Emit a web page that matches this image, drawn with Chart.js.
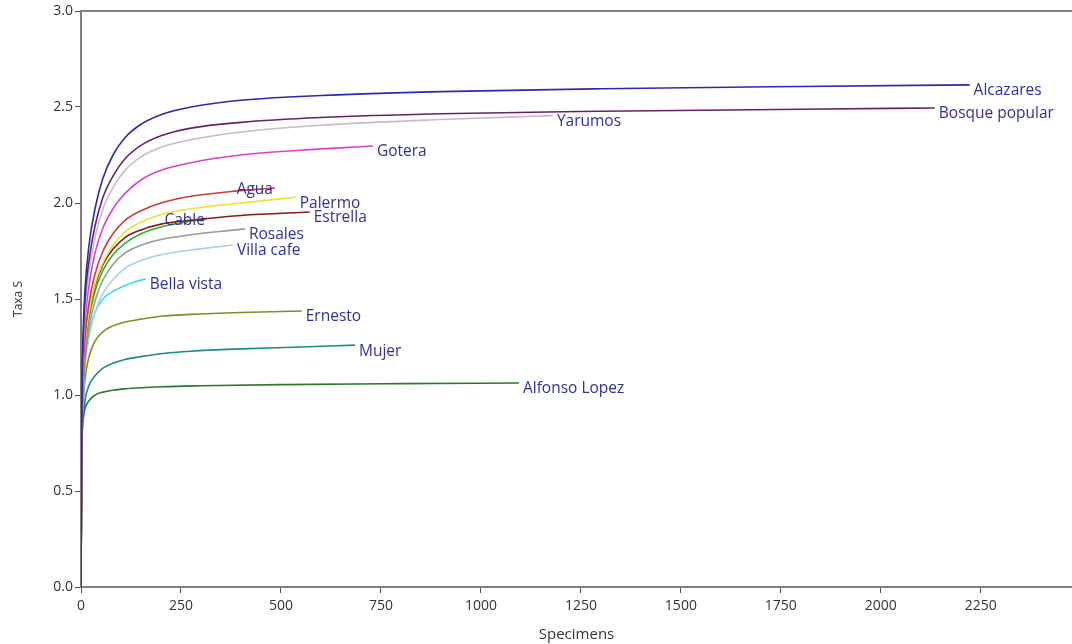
<!DOCTYPE html>
<html>
<head>
<meta charset="utf-8">
<script src="https://cdn.jsdelivr.net/npm/chart.js@4"></script>
<style>
  body { margin: 0; background: #fff; }
</style>
</head>
<body>
<canvas id="chart" width="1072" height="644"></canvas>
<script>
// rarefaction curves, values
const siteNames = ["Alcazares", "Bosque popular", "Yarumos", "Gotera", "Agua", "Palermo", "Estrella",
                   "Cable", "Rosales", "Villa cafe", "Bella vista", "Ernesto", "Mujer", "Alfonso Lopez"];

const xAlcazares = [0, 2, 5, 10, 20, 35, 55, 80, 110, 150, 200, 275, 400, 600, 900, 1300, 1800, 2222];
const yAlcazares = [0, 0.95, 1.3, 1.55, 1.78, 1.97, 2.13, 2.25, 2.34, 2.41, 2.46, 2.50, 2.535, 2.56, 2.58, 2.595, 2.607, 2.615];

const xBosque = [0, 2, 5, 10, 20, 35, 55, 80, 110, 150, 200, 275, 400, 600, 900, 1300, 1800, 2135];
const yBosque = [0, 0.9, 1.25, 1.5, 1.7, 1.88, 2.03, 2.14, 2.23, 2.30, 2.35, 2.39, 2.42, 2.445, 2.465, 2.478, 2.488, 2.495];

const xYarumos = [0, 2, 5, 10, 20, 35, 55, 80, 110, 150, 200, 275, 400, 600, 900, 1180];
const yYarumos = [0, 0.88, 1.2, 1.44, 1.64, 1.82, 1.97, 2.08, 2.17, 2.24, 2.29, 2.33, 2.37, 2.405, 2.435, 2.455];

const xGotera = [0, 2, 5, 10, 20, 35, 55, 80, 110, 150, 200, 275, 400, 550, 730];
const yGotera = [0, 0.85, 1.15, 1.38, 1.57, 1.74, 1.87, 1.97, 2.05, 2.12, 2.17, 2.21, 2.25, 2.275, 2.297];

const xAgua = [0, 2, 5, 10, 20, 35, 55, 80, 110, 150, 200, 275, 375, 485];
const yAgua = [0, 0.82, 1.1, 1.3, 1.48, 1.63, 1.75, 1.84, 1.91, 1.96, 2.0, 2.035, 2.06, 2.078];

const xPalermo = [0, 2, 5, 10, 20, 35, 55, 80, 110, 150, 200, 275, 400, 537];
const yPalermo = [0, 0.8, 1.07, 1.26, 1.43, 1.58, 1.69, 1.78, 1.85, 1.9, 1.94, 1.97, 2.0, 2.03];

const xEstrella = [0, 2, 5, 10, 20, 35, 55, 80, 110, 150, 200, 275, 400, 572];
const yEstrella = [0, 0.8, 1.07, 1.26, 1.43, 1.57, 1.68, 1.76, 1.82, 1.86, 1.89, 1.91, 1.935, 1.953];

const xCable = [0, 2, 5, 10, 20, 35, 55, 80, 110, 150, 200, 260, 315];
const yCable = [0, 0.78, 1.04, 1.23, 1.4, 1.54, 1.65, 1.73, 1.79, 1.84, 1.875, 1.9, 1.92];

const xRosales = [0, 2, 5, 10, 20, 35, 55, 80, 110, 150, 200, 275, 340, 410];
const yRosales = [0, 0.76, 1.0, 1.18, 1.35, 1.49, 1.6, 1.68, 1.74, 1.78, 1.81, 1.835, 1.85, 1.865];

const xVillaCafe = [0, 2, 5, 10, 20, 35, 55, 80, 110, 150, 200, 275, 380];
const yVillaCafe = [0, 0.74, 0.98, 1.15, 1.3, 1.43, 1.53, 1.6, 1.66, 1.7, 1.73, 1.755, 1.781];

const xBellaVista = [0, 2, 5, 10, 20, 35, 55, 80, 110, 135, 162];
const yBellaVista = [0, 0.75, 1.0, 1.17, 1.32, 1.43, 1.5, 1.54, 1.57, 1.59, 1.604];

const xErnesto = [0, 2, 5, 10, 20, 35, 55, 80, 110, 150, 200, 275, 400, 552];
const yErnesto = [0, 0.7, 0.93, 1.08, 1.2, 1.28, 1.33, 1.36, 1.38, 1.395, 1.41, 1.42, 1.43, 1.4375];

const xMujer = [0, 2, 5, 10, 20, 35, 55, 80, 110, 150, 200, 275, 400, 550, 685];
const yMujer = [0, 0.68, 0.86, 0.97, 1.05, 1.1, 1.14, 1.165, 1.185, 1.2, 1.215, 1.228, 1.24, 1.25, 1.26];

const xAlfonso = [0, 2, 5, 10, 20, 35, 55, 80, 110, 150, 200, 300, 500, 800, 1095];
const yAlfonso = [0, 0.75, 0.87, 0.93, 0.97, 1.0, 1.015, 1.025, 1.032, 1.038, 1.043, 1.048, 1.054, 1.059, 1.0625];

const xSeries = [xAlcazares, xBosque, xYarumos, xGotera, xAgua, xPalermo, xEstrella,
                 xCable, xRosales, xVillaCafe, xBellaVista, xErnesto, xMujer, xAlfonso];
const ySeries = [yAlcazares, yBosque, yYarumos, yGotera, yAgua, yPalermo, yEstrella,
                 yCable, yRosales, yVillaCafe, yBellaVista, yErnesto, yMujer, yAlfonso];

const lineColors = ["#2b2bb0", "#6b1f6b", "#cdb8cd", "#e040c8", "#d03a3a", "#f0e030", "#8b1a1a",
                    "#30b030", "#9a9a9a", "#a8d0ec", "#30e0f0", "#8a8a20", "#1a8a8a", "#2a7a2a"];

const xTickValues = [0, 250, 500, 750, 1000, 1250, 1500, 1750, 2000, 2250];
const yTickValues = [0, 0.5, 1.0, 1.5, 2.0, 2.5, 3.0];
const xMax = 2478;
const leftLabels = ["Agua", "Cable"];

const datasets = siteNames.map((name, i) => ({
    label: name,
    data: xSeries[i].map((x, j) => ({ x: x, y: ySeries[i][j] })),
    borderColor: lineColors[i],
    borderWidth: 1.6,
    pointRadius: 0,
    fill: false,
    cubicInterpolationMode: "monotone"
}));

// names written at the end of every curve
const endLabels = {
    id: "endLabels",
    afterDatasetsDraw(chart) {
        const ctx = chart.ctx;
        ctx.save();
        ctx.font = '15.5px "Open Sans"';
        ctx.fillStyle = "#30309a";
        ctx.textBaseline = "middle";
        chart.data.datasets.forEach((ds, i) => {
            const pts = chart.getDatasetMeta(i).data;
            const p = pts[pts.length - 1];
            if (leftLabels.includes(ds.label)) {
                ctx.textAlign = "right";
                ctx.fillText(ds.label, p.x - 2, p.y + 2);
            } else {
                ctx.textAlign = "left";
                ctx.fillText(ds.label, p.x + 4, p.y + 6);
            }
        });
        ctx.restore();
    }
};

// gray line along the top of the plot
const topBorder = {
    id: "topBorder",
    afterDraw(chart) {
        const ctx = chart.ctx;
        const a = chart.chartArea;
        ctx.save();
        ctx.strokeStyle = "#808080";
        ctx.lineWidth = 2;
        ctx.beginPath();
        ctx.moveTo(a.left, a.top);
        ctx.lineTo(a.right, a.top);
        ctx.stroke();
        ctx.restore();
    }
};

Chart.defaults.font.family = '"Open Sans", sans-serif';
Chart.defaults.color = "#333";

new Chart(document.getElementById("chart"), {
    type: "line",
    data: { datasets: datasets },
    options: {
        responsive: false,
        animation: false,
        layout: { padding: { top: 11, right: 0, left: 0, bottom: 0 } },
        plugins: {
            legend: { display: false },
            tooltip: { enabled: false }
        },
        scales: {
            x: {
                type: "linear",
                min: 0,
                max: xMax,
                afterFit: (s) => { s.height = 57; },
                afterBuildTicks: (s) => { s.ticks = xTickValues.map(v => ({ value: v })); },
                border: { color: "#808080", width: 2 },
                grid: { drawOnChartArea: false, tickLength: 6, color: "#555" },
                ticks: { padding: 5, font: { size: 14 }, maxRotation: 0, autoSkip: false,
                         callback: (v) => String(v) },
                title: { display: true, text: "Specimens", font: { size: 15 }, padding: 0 }
            },
            y: {
                min: 0,
                max: 3,
                afterFit: (s) => { s.width = 81; },
                afterBuildTicks: (s) => { s.ticks = yTickValues.map(v => ({ value: v })); },
                border: { color: "#808080", width: 2 },
                grid: { drawOnChartArea: false, tickLength: 6, color: "#555" },
                ticks: { padding: 2, font: { size: 14 }, callback: (v) => v.toFixed(1) },
                title: { display: true, text: "Taxa S", font: { size: 12 }, padding: { top: 11, bottom: 0 } }
            }
        }
    },
    plugins: [endLabels, topBorder]
});
</script>
</body>
</html>
